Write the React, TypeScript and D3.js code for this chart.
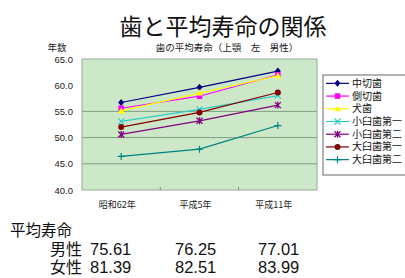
import React from 'react';
import * as d3 from 'd3';

const years = ['昭和62年', '平成5年', '平成11年'];
const teeth = ['中切歯', '側切歯', '犬歯', '小臼歯第一', '小臼歯第二', '大臼歯第一', '大臼歯第二'];
const toothValues = [
  [56.7, 59.6, 62.7],
  [55.6, 57.9, 62.0],
  [55.1, 58.5, 61.8],
  [53.1, 55.4, 58.0],
  [50.6, 53.2, 56.2],
  [52.0, 54.8, 58.6],
  [46.4, 47.8, 52.3],
];
const yTicks = [40, 45, 50, 55, 60, 65];
const gridValues = [45, 50, 55];
const lifeRows = ['男性', '女性'];
const lifeValues = [
  ['75.61', '76.25', '77.01'],
  ['81.39', '82.51', '83.99'],
];

const colors = ['#000080', '#ff00ff', '#ffff00', '#33cccc', '#800080', '#800000', '#008080'];
const shapes = ['diamond', 'square', 'triangle', 'x', 'star', 'circle', 'plus'];

const jp = '"Noto Sans CJK JP", sans-serif';
const num = '"Liberation Sans", Arial, sans-serif';

function Marker({ shape, x, y, color }) {
  const s = 3;
  if (shape === 'diamond')
    return <path d={`M${x},${y - s - 0.5}L${x + s},${y}L${x},${y + s + 0.5}L${x - s},${y}Z`} fill={color} />;
  if (shape === 'square') return <rect x={x - 2.8} y={y - 2.8} width={5.6} height={5.6} fill={color} />;
  if (shape === 'triangle')
    return <path d={`M${x},${y - 3.5}L${x + 3.5},${y + 2.5}L${x - 3.5},${y + 2.5}Z`} fill={color} />;
  if (shape === 'circle') return <circle cx={x} cy={y} r={3} fill={color} />;
  if (shape === 'x')
    return (
      <path d={`M${x - s},${y - s}L${x + s},${y + s}M${x - s},${y + s}L${x + s},${y - s}`} stroke={color} strokeWidth={1.2} />
    );
  if (shape === 'plus')
    return <path d={`M${x - 3.5},${y}L${x + 3.5},${y}M${x},${y - 3.5}L${x},${y + 3.5}`} stroke={color} strokeWidth={1.2} />;
  return (
    <path
      d={`M${x - s},${y - s}L${x + s},${y + s}M${x - s},${y + s}L${x + s},${y - s}M${x},${y - 3.5}L${x},${y + 3.5}`}
      stroke={color}
      strokeWidth={1.3}
    />
  );
}

export default function App() {
  const width = 405;
  const height = 278;
  const plot = { left: 82, right: 317, top: 59, bottom: 190 };

  const x = d3.scaleBand().domain(years).range([plot.left, plot.right]);
  const y = d3.scaleLinear().domain([40, 65]).range([plot.bottom, plot.top]);
  const cx = (d) => x(d) + x.bandwidth() / 2;

  const line = d3
    .line()
    .x((d, i) => cx(years[i]))
    .y((d) => y(d));

  const legendY = d3.scaleBand().domain(teeth).range([76, 165]);
  const numX = [90, 175, 258];

  return (
    <svg
      width={width}
      height={height}
      style={{ position: 'absolute', left: 0, top: 0, background: '#fff' }}
    >
      <text x={223} y={35} textAnchor="middle" fontFamily={jp} fontSize={23} fill="#111">
        歯と平均寿命の関係
      </text>
      <text x={227} y={51} textAnchor="middle" fontFamily={jp} fontSize={9.5} fill="#222">
        歯の平均寿命（上顎　左　男性）
      </text>
      <text x={57} y={51} textAnchor="middle" fontFamily={jp} fontSize={9.5} fill="#222">
        年数
      </text>

      <rect
        x={plot.left}
        y={plot.top}
        width={plot.right - plot.left}
        height={plot.bottom - plot.top}
        fill="#cde8c8"
        stroke="#9aa89a"
        strokeWidth={1}
      />
      {gridValues.map((v) => (
        <line key={v} x1={plot.left} x2={plot.right} y1={y(v)} y2={y(v)} stroke="#7f9f7f" strokeWidth={1} />
      ))}
      {years.slice(1).map((d) => (
        <line key={d} x1={x(d)} x2={x(d)} y1={plot.bottom} y2={plot.bottom - 3} stroke="#888" />
      ))}
      {yTicks.map((v) => (
        <text key={v} x={73} y={y(v) + 3.5} textAnchor="end" fontFamily={num} fontSize={9.5} fill="#222">
          {v.toFixed(1)}
        </text>
      ))}
      {years.map((d) => (
        <text key={d} x={cx(d) - 4} y={208} textAnchor="middle" fontFamily={jp} fontSize={9} fill="#222">
          {d}
        </text>
      ))}

      {toothValues.map((vals, i) => (
        <g key={teeth[i]}>
          <path d={line(vals)} fill="none" stroke={colors[i]} strokeWidth={1.2} />
          {vals.map((v, j) => (
            <Marker key={j} shape={shapes[i]} x={cx(years[j])} y={y(v)} color={colors[i]} />
          ))}
        </g>
      ))}

      <rect x={323} y={75} width={90} height={100} fill="#fff" stroke="#666" strokeWidth={1} />
      {teeth.map((t, i) => {
        const ly = legendY(t) + legendY.bandwidth() / 2 + 1;
        return (
          <g key={t}>
            <line x1={326} x2={349} y1={ly} y2={ly} stroke={colors[i]} strokeWidth={1.2} />
            <Marker shape={shapes[i]} x={337.5} y={ly} color={colors[i]} />
            <text x={352} y={ly + 3.5} fontFamily={jp} fontSize={10} fill="#111">
              {t}
            </text>
          </g>
        );
      })}

      <text x={10} y={236} fontFamily={jp} fontSize={15.5} fill="#111">
        平均寿命
      </text>
      {lifeRows.map((r, i) => (
        <g key={r}>
          <text x={50} y={255 + i * 18} fontFamily={jp} fontSize={16} fill="#111">
            {r}
          </text>
          {lifeValues[i].map((v, j) => (
            <text key={j} x={numX[j]} y={255 + i * 18} fontFamily={num} fontSize={16.5} fill="#111">
              {v}
            </text>
          ))}
        </g>
      ))}
    </svg>
  );
}
